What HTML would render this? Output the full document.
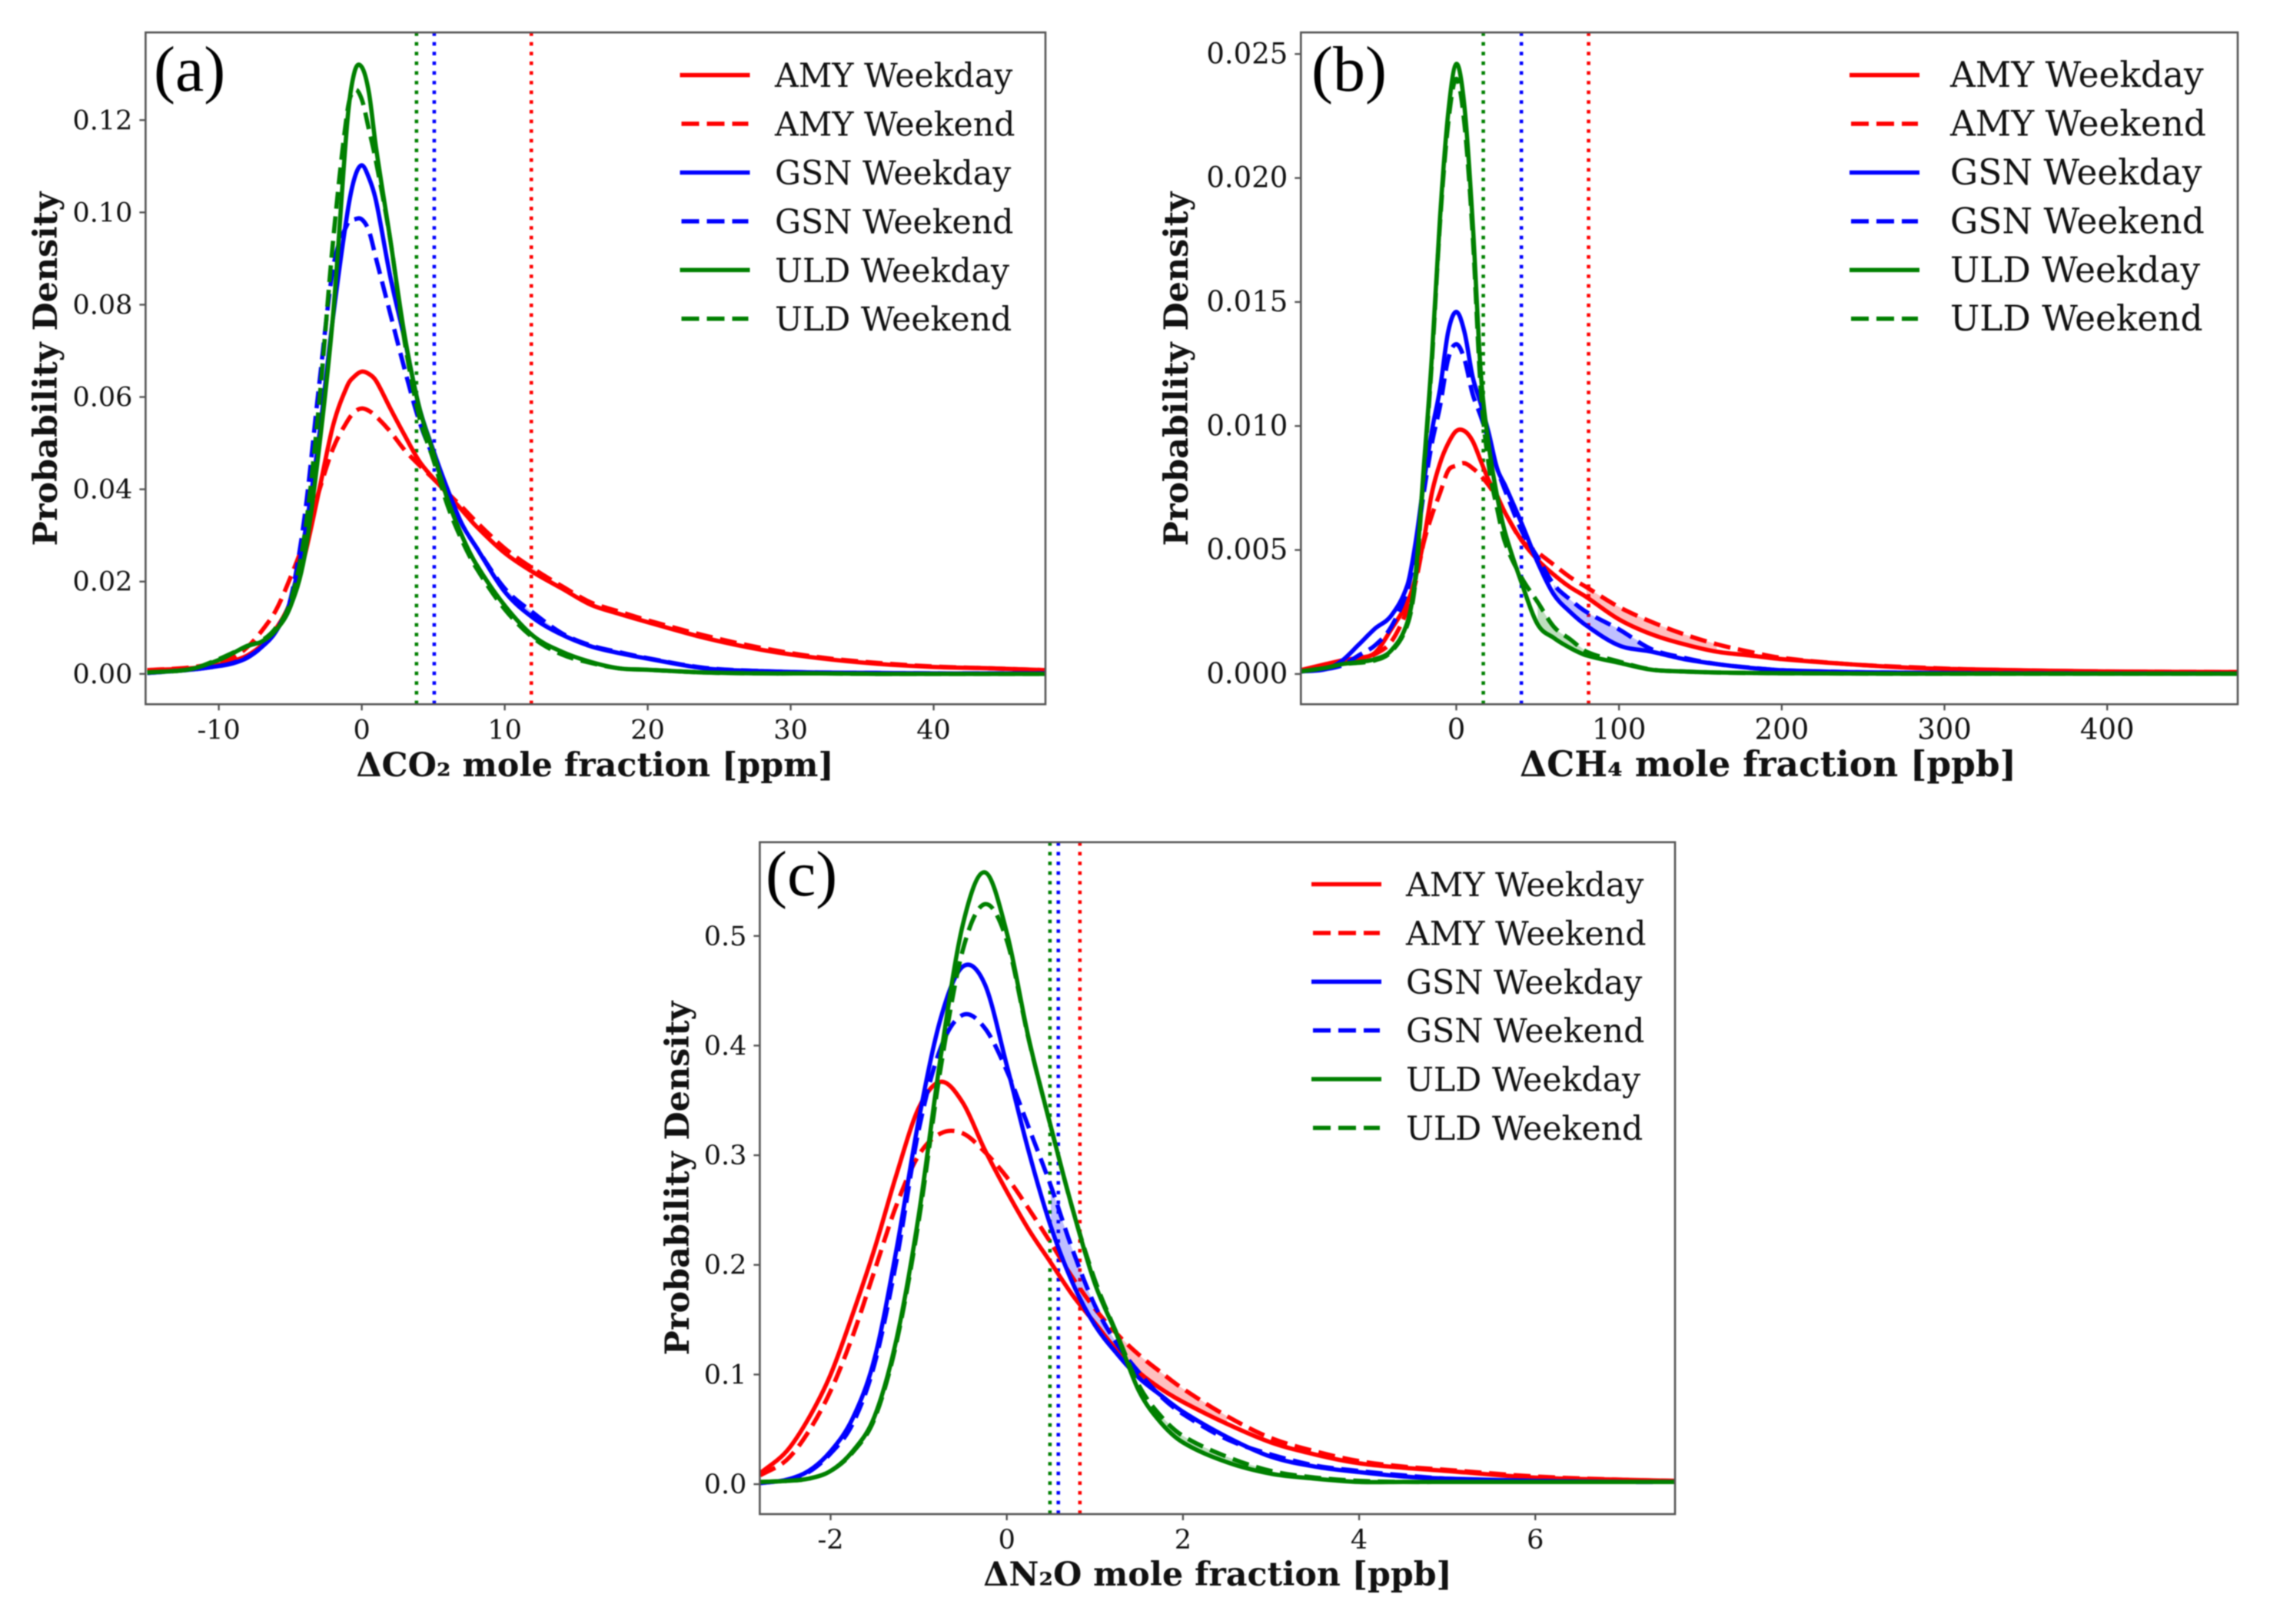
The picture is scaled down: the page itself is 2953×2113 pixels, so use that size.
<!DOCTYPE html>
<html lang="en">
<head>
<meta charset="utf-8">
<title>Probability density of mole fraction enhancements</title>
<style>
html,body{margin:0;padding:0;background:#fff;}
svg{display:block;filter:blur(0.7px);}
.tick{font-family:"DejaVu Serif","Liberation Serif",serif;fill:#111;}
.title{font-family:"DejaVu Serif","Liberation Serif",serif;font-weight:bold;fill:#111;}
.legend-text{font-family:"DejaVu Serif","Liberation Serif",serif;fill:#111;}
.panel-letter{font-family:"Liberation Serif",serif;font-size:84px;fill:#000;}
</style>
</head>
<body>
<svg id="figure" xmlns="http://www.w3.org/2000/svg" width="2953" height="2113" viewBox="0 0 2953 2113">
<rect x="0" y="0" width="2953" height="2113" fill="#fff"/>
<g id="panel-a">
  <text class="panel-letter" x="200" y="118">(a)</text>
  <text class="title" x="774" y="1010" font-size="42.8" text-anchor="middle">ΔCO₂ mole fraction [ppm]</text>
  <text class="title" transform="translate(74,480) rotate(-90)" font-size="42.9" text-anchor="middle">Probability Density</text>
</g>
<g id="panel-b">
  <text class="panel-letter" x="1706" y="118" textLength="98" lengthAdjust="spacingAndGlyphs">(b)</text>
  <text class="title" x="2300" y="1010" font-size="45.4" text-anchor="middle">ΔCH₄ mole fraction [ppb]</text>
  <text class="title" transform="translate(1545,480) rotate(-90)" font-size="42.9" text-anchor="middle">Probability Density</text>
</g>
<g id="panel-c">
  <text class="panel-letter" x="996" y="1165">(c)</text>
  <text class="title" x="1584" y="2063" font-size="42.7" text-anchor="middle">ΔN₂O mole fraction [ppb]</text>
  <text class="title" transform="translate(896,1533) rotate(-90)" font-size="42.9" text-anchor="middle">Probability Density</text>
</g>
</svg>
<script>
// ---------- shared ----------
const seriesNames = ["AMY Weekday","AMY Weekend","GSN Weekday","GSN Weekend","ULD Weekday","ULD Weekend"];
const seriesColors = ["#ff0000","#ff0000","#0000ff","#0000ff","#008000","#008000"];

// ---------- panel (a) CO2 ----------
const co2X = [-15,-12,-10,-9,-8,-7,-6,-5,-4,-3,-2,-1,-0.5,0,0.5,1,2,3,4,5,6,7,8,10,12,14,16,18,20,24,28,32,36,40,44,48];
const co2AmyWeekday = [.0008,.0012,.002,.0028,.004,.0062,.0098,.0155,.0255,.0395,.0539,.0625,.0645,.0655,.065,.0635,.0575,.0517,.0462,.0424,.039,.0355,.032,.0262,.022,.0185,.015,.013,.0112,.0078,.0052,.0034,.0022,.0015,.0012,.0008];
const co2AmyWeekend = [.0008,.0014,.0025,.0035,.0058,.0093,.0138,.0208,.029,.0395,.0489,.0548,.0568,.0575,.057,.0558,.0525,.0485,.0453,.0423,.0392,.0362,.033,.0272,.0228,.019,.0155,.0135,.0116,.0083,.0056,.0036,.0024,.0016,.0012,.0008];
const co2GsnWeekday = [.0002,.0009,.0017,.0023,.0035,.0058,.0092,.0158,.03,.051,.0775,.1,.1075,.1102,.1075,.1025,.086,.0725,.058,.0485,.04,.0325,.0275,.0178,.0121,.0085,.006,.0045,.0033,.0012,.0006,.0003,.0002,.0001,.0001,.0001];
const co2GsnWeekend = [.0002,.0009,.0017,.0024,.0036,.0058,.0095,.016,.034,.062,.088,.0975,.0985,.0985,.096,.09,.078,.066,.055,.047,.0395,.0325,.0275,.0185,.0132,.0088,.0062,.0047,.0034,.0013,.0006,.0003,.0002,.0001,.0001,.0001];
const co2UldWeekday = [.0003,.001,.003,.0045,.0061,.007,.0095,.0145,.0255,.0485,.078,.12,.1305,.1315,.126,.114,.094,.0733,.058,.048,.0378,.03,.0238,.0148,.0082,.0048,.0026,.0012,.0009,.0003,.0001,.0001,0,0,0,0];
const co2UldWeekend = [.0003,.001,.0032,.0046,.006,.0072,.01,.0155,.03,.058,.094,.122,.1265,.1245,.118,.111,.094,.072,.056,.0465,.0365,.029,.023,.014,.0078,.0042,.0024,.0012,.0009,.0003,.0001,.0001,0,0,0,0];
const co2XTicks = [-10,0,10,20,30,40];
const co2XLabels = ["-10","0","10","20","30","40"];
const co2YTicks = [0,0.02,0.04,0.06,0.08,0.10,0.12];
const co2YLabels = ["0.00","0.02","0.04","0.06","0.08","0.10","0.12"];
const co2Means = [11.86,5.07,3.83];
const co2BandSpans = [[12,24],[10,14],[8,12]];

// ---------- panel (b) CH4 ----------
const ch4X = [-96,-80,-70,-60,-50,-40,-30,-25,-20,-15,-10,-5,0,5,10,15,20,25,30,40,50,60,70,80,100,120,140,160,180,200,240,280,320,400,480];
const ch4AmyWeekday = [.00015,.0004,.00055,.00065,.00085,.0018,.0029,.0039,.0054,.0073,.0085,.0093,.0098,.0098,.0094,.0086,.0078,.0072,.0065,.0054,.0046,.004,.0035,.0031,.0022,.0016,.0012,.0009,.00075,.0006,.0004,.00025,.00018,.0001,.00008];
const ch4AmyWeekend = [.00015,.0003,.00045,.00055,.0008,.0013,.0026,.0037,.0053,.0064,.0073,.0082,.0084,.0085,.0083,.008,.0076,.0071,.0065,.0054,.0049,.0044,.0039,.0035,.0027,.0021,.0016,.0012,.0009,.00065,.0004,.00027,.00018,.0001,.00008];
const ch4GsnWeekday = [.0001,.0002,.00055,.00118,.00183,.00235,.0036,.0053,.0077,.0098,.0115,.0138,.0146,.0138,.012,.0109,.0097,.0083,.0076,.0061,.0045,.0032,.0025,.00195,.00115,.0009,.0006,.0004,.00025,.00015,.00008,.00005,.00003,.00002,.00002];
const ch4GsnWeekend = [.0001,.0002,.00035,.00075,.00115,.0019,.0034,.005,.0073,.0093,.0108,.0127,.0133,.0127,.0113,.0104,.0094,.0083,.0074,.0058,.0047,.0036,.003,.0025,.0018,.001,.00065,.0004,.00026,.00015,.00008,.00005,.00003,.00002,.00002];
const ch4UldWeekday = [.0001,.00025,.0004,.00048,.0006,.00095,.0021,.004,.0083,.0128,.0184,.0226,.0246,.0229,.0183,.0122,.0092,.0072,.0057,.0037,.002,.00145,.00105,.00075,.00045,.00017,.0001,.00006,.00004,.00003,.00002,.00001,.00001,.00001,.00001];
const ch4UldWeekend = [.0001,.00025,.0004,.00045,.00055,.0009,.002,.0038,.0081,.0126,.0182,.0222,.024,.0222,.0178,.0115,.0084,.0067,.0053,.0039,.0029,.0019,.0014,.0009,.0005,.00018,.0001,.00006,.00004,.00003,.00002,.00001,.00001,.00001,.00001];
const ch4XTicks = [0,100,200,300,400];
const ch4XLabels = ["0","100","200","300","400"];
const ch4YTicks = [0,0.005,0.010,0.015,0.020,0.025];
const ch4YLabels = ["0.000","0.005","0.010","0.015","0.020","0.025"];
const ch4Means = [81.3,40,16.6];
const ch4BandSpans = [[80,160],[60,120],[50,80]];

// ---------- panel (c) N2O ----------
const n2oX = [-2.8,-2.5,-2.25,-2,-1.75,-1.5,-1.25,-1,-.75,-.5,-.25,0,.25,.5,.75,1,1.25,1.5,1.75,2,2.5,3,3.5,4,4.5,5,6,7,7.6];
const n2oAmyWeekday = [.01,.03,.06,.1,.155,.215,.283,.343,.367,.348,.305,.267,.232,.202,.172,.147,.122,.102,.087,.075,.055,.038,.027,.019,.015,.012,.006,.004,.003];
const n2oAmyWeekend = [.008,.022,.048,.085,.135,.195,.255,.3,.32,.32,.303,.28,.251,.22,.188,.16,.137,.118,.102,.087,.062,.042,.03,.021,.016,.013,.007,.004,.003];
const n2oGsnWeekday = [.001,.004,.012,.03,.06,.115,.215,.332,.425,.472,.456,.382,.303,.235,.183,.145,.119,.097,.081,.066,.043,.025,.016,.011,.007,.005,.003,.002,.002];
const n2oGsnWeekend = [.001,.004,.011,.028,.055,.11,.205,.323,.398,.428,.416,.377,.325,.272,.213,.163,.128,.102,.08,.064,.041,.027,.017,.012,.008,.005,.003,.002,.002];
const n2oUldWeekday = [.002,.003,.005,.012,.03,.062,.133,.245,.39,.51,.558,.503,.406,.326,.25,.183,.136,.085,.056,.038,.02,.0095,.005,.002,.002,.002,.002,.002,.002];
const n2oUldWeekend = [.002,.003,.005,.012,.029,.06,.13,.24,.38,.487,.529,.496,.405,.326,.25,.186,.137,.09,.062,.044,.025,.012,.006,.003,.002,.002,.002,.002,.002];
const n2oXTicks = [-2,0,2,4,6];
const n2oXLabels = ["-2","0","2","4","6"];
const n2oYTicks = [0,0.1,0.2,0.3,0.4,0.5];
const n2oYLabels = ["0.0","0.1","0.2","0.3","0.4","0.5"];
const n2oMeans = [0.83,0.585,0.49];
const n2oBandSpans = [[1.25,2.5],[0.5,1.25],[1.75,3]];

const SVGNS = "http://www.w3.org/2000/svg";
function mk(tag, attrs, parent){
  const el = document.createElementNS(SVGNS, tag);
  for (const k in attrs) el.setAttribute(k, attrs[k]);
  parent.appendChild(el);
  return el;
}
function linear(d0,d1,r0,r1){ return v => r0 + (v-d0)*(r1-r0)/(d1-d0); }

// Smooth path segment list from data, through axis functions.
function curveCommands(xs, ys, sx, sy){
  const px = xs.map(sx), py = ys.map(sy), n = px.length, m = [];
  for (let i=0;i<n;i++){
    const a = Math.max(0,i-1), b = Math.min(n-1,i+1);
    m.push((py[b]-py[a])/(px[b]-px[a]));
  }
  let d = "";
  for (let i=0;i<n-1;i++){
    const h = (px[i+1]-px[i])/3;
    d += " C"+(px[i]+h).toFixed(1)+" "+(py[i]+m[i]*h).toFixed(1)+" "+(px[i+1]-h).toFixed(1)+" "+(py[i+1]-m[i+1]*h).toFixed(1)+" "+px[i+1].toFixed(1)+" "+py[i+1].toFixed(1);
  }
  return {start:"M"+px[0].toFixed(1)+" "+py[0].toFixed(1), body:d};
}

function drawPanel(cfg){
  const root = document.getElementById(cfg.id);
  const sx = linear(cfg.xDomain[0],cfg.xDomain[1],cfg.box.left,cfg.box.right);
  const sy = linear(cfg.yDomain[0],cfg.yDomain[1],cfg.box.bottom,cfg.box.top);
  const clipId = cfg.id+"-clip";
  const defs = mk("defs",{},root);
  const cp = mk("clipPath",{id:clipId},defs);
  mk("rect",{x:cfg.box.left,y:cfg.box.top,width:cfg.box.right-cfg.box.left,height:cfg.box.bottom-cfg.box.top},cp);
  const plot = mk("g",{"clip-path":"url(#"+clipId+")"},root);
  
  

  // mean markers
  cfg.means.forEach((v,i)=>{
    const col = [seriesColors[0],seriesColors[2],seriesColors[4]][i];
    const ln = mk("line",{x1:sx(v),x2:sx(v),y1:cfg.box.top,y2:cfg.box.bottom,stroke:col,"stroke-width":4.6,"stroke-dasharray":"4.6,8"},plot);
    
    
  });

  // shaded gaps between weekday and weekend, over each site's span
  cfg.bandSpans.forEach((span,k)=>{
    const s = k*2;
    const idx = [];
    cfg.xs.forEach((x,i)=>{ if (x>=span[0] && x<=span[1]) idx.push(i); });
    const xa = idx.map(i=>cfg.xs[i]);
    const ya = idx.map(i=>cfg.series[s][i]);
    const yb = idx.map(i=>cfg.series[s+1][i]);
    const a = curveCommands(xa,ya,sx,sy);
    const b = curveCommands(xa.slice().reverse(),yb.slice().reverse(),sx,sy);
    const band = mk("path",{d:a.start+a.body+" L"+b.start.slice(1)+b.body+" Z",fill:seriesColors[s],"fill-opacity":0.25,stroke:"none"},plot);
    
    
  });

  // curves
  cfg.series.forEach((ys,i)=>{
    const c = curveCommands(cfg.xs,ys,sx,sy);
    const dashed = i%2===1;
    const p = mk("path",{d:c.start+c.body,fill:"none",stroke:seriesColors[i],"stroke-width":5.6,"stroke-linejoin":"round"},plot);
    if (dashed) p.setAttribute("stroke-dasharray","22,10");
    
    
  });

  // frame
  const frame = mk("rect",{x:cfg.box.left,y:cfg.box.top,width:cfg.box.right-cfg.box.left,height:cfg.box.bottom-cfg.box.top,fill:"none",stroke:"#555","stroke-width":2.6},root);
  
  

  // ticks
  cfg.xTicks.forEach((v,i)=>{
    const t = mk("line",{x1:sx(v),x2:sx(v),y1:cfg.box.bottom,y2:cfg.box.bottom+8,stroke:"#555","stroke-width":2.4},root);
    
    
    const lb = mk("text",{x:sx(v),y:cfg.box.bottom+45,"text-anchor":"middle","font-size":cfg.tickSize,class:"tick"},root);
    lb.textContent = cfg.xLabels[i];
    
    
  });
  cfg.yTicks.forEach((v,i)=>{
    const t = mk("line",{x1:cfg.box.left-8,x2:cfg.box.left,y1:sy(v),y2:sy(v),stroke:"#555","stroke-width":2.4},root);
    
    
    const lb = mk("text",{x:cfg.box.left-17,y:sy(v)+12,"text-anchor":"end","font-size":cfg.tickSize,class:"tick"},root);
    lb.textContent = cfg.yLabels[i];
    
    
  });

  // legend
  const lg = mk("g",{},root);
  
  
  seriesNames.forEach((nm,i)=>{
    const y = cfg.legend.y + i*63.4;
    const entry = mk("g",{},lg);
    
    
    const ln = mk("line",{x1:cfg.legend.x,x2:cfg.legend.x+91,y1:y,y2:y,stroke:seriesColors[i],"stroke-width":5.6},entry);
    if (i%2===1){ ln.setAttribute("stroke-dasharray","23,10"); ln.setAttribute("x1",cfg.legend.x+2); ln.setAttribute("x2",cfg.legend.x+89); }
    
    
    const tx = mk("text",{x:cfg.legend.textX,y:y+15.5,"font-size":cfg.legend.size,class:"legend-text"},entry);
    tx.textContent = nm;
    
    
  });
}

drawPanel({
  id:"panel-a",
  box:{left:189.4,right:1360,top:42.2,bottom:916.3},
  xDomain:[-15.12,47.82], yDomain:[-0.00658,0.139],
  xs:co2X,
  series:[co2AmyWeekday,co2AmyWeekend,co2GsnWeekday,co2GsnWeekend,co2UldWeekday,co2UldWeekend],
  bandSpans:co2BandSpans,
  xTicks:co2XTicks,xLabels:co2XLabels,yTicks:co2YTicks,yLabels:co2YLabels,means:co2Means,
  tickSize:35,
  legend:{x:884.5,textX:1008,y:97.7,size:42.6}
});
drawPanel({
  id:"panel-b",
  box:{left:1692.3,right:2911,top:42.2,bottom:916.3},
  xDomain:[-95.5,480.2], yDomain:[-0.00122,0.02587],
  xs:ch4X,
  series:[ch4AmyWeekday,ch4AmyWeekend,ch4GsnWeekday,ch4GsnWeekend,ch4UldWeekday,ch4UldWeekend],
  bandSpans:ch4BandSpans,
  xTicks:ch4XTicks,xLabels:ch4XLabels,yTicks:ch4YTicks,yLabels:ch4YLabels,means:ch4Means,
  tickSize:37,
  legend:{x:2406,textX:2537,y:97.7,size:45.4}
});
drawPanel({
  id:"panel-c",
  box:{left:988.4,right:2179,top:1095.8,bottom:1970},
  xDomain:[-2.804,7.586], yDomain:[-0.0273,0.5855],
  xs:n2oX,
  series:[n2oAmyWeekday,n2oAmyWeekend,n2oGsnWeekday,n2oGsnWeekend,n2oUldWeekday,n2oUldWeekend],
  bandSpans:n2oBandSpans,
  xTicks:n2oXTicks,xLabels:n2oXLabels,yTicks:n2oYTicks,yLabels:n2oYLabels,means:n2oMeans,
  tickSize:35,
  legend:{x:1706,textX:1829,y:1150.5,size:42.6}
});
</script>
</body>
</html>
